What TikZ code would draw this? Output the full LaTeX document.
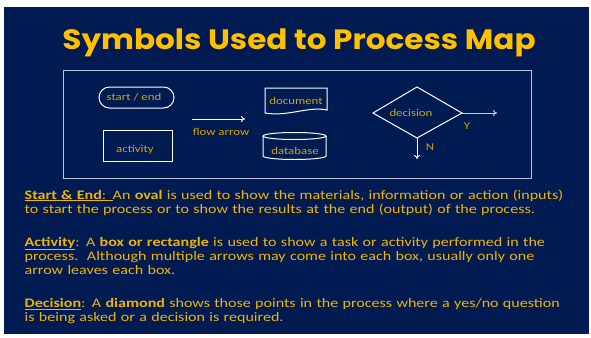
\documentclass[tikz,border=0pt]{standalone}
\usepackage{fontspec}
\setmainfont{Carlito}[FakeStretch=1.235]
\newfontfamily\titlefont{Poppins}[FakeStretch=1.11]
\usetikzlibrary{arrows.meta}
\definecolor{navy}{RGB}{0,27,82}
\definecolor{gold}{RGB}{255,192,0}
\definecolor{bodygold}{RGB}{240,180,0}
\definecolor{lblgold}{RGB}{214,166,0}
\definecolor{frame}{RGB}{184,196,220}
\definecolor{arrgray}{RGB}{200,205,216}
\begin{document}
\begin{tikzpicture}[x=1pt,y=-1pt,
  shp/.style={draw=white, line width=1pt},
  lbl/.style={text=lblgold, font=\fontsize{10.4}{12}\selectfont, inner sep=0pt},
  flow/.style={draw=white, line width=0.9pt, -{To[length=4pt,width=6pt]}},
  para/.style={text=bodygold, font=\fontsize{13}{14.4}\selectfont, align=left, text width=575pt, anchor=base west, inner sep=0pt}]
\useasboundingbox (0,0) rectangle (591,337);
\fill[white] (0,0) rectangle (591,337);
\fill[navy] (4,7) rectangle (589,334);
% title
\node[text=gold, font=\titlefont\bfseries\fontsize{28}{32}\selectfont, anchor=base, inner sep=0pt] (title) at (299,50) {Symbols Used to Process Map};
% frame
\draw[frame, line width=1pt] (63,70) rectangle (531,178);
% start / end
\node[shp, rounded corners=10.5pt, minimum width=75pt, minimum height=21pt, inner sep=0pt] (se) at (136.5,97.5) {};
\node[lbl] (selbl) at (134,97.5) {start / end};
% activity
\node[shp, minimum width=69pt, minimum height=31pt, inner sep=0pt] (act) at (137.5,145.5) {};
\node[lbl] (actlbl) at (135,150) {activity};
% flow arrow
\coordinate (fa1) at (192,119);
\coordinate (fa2) at (245,119);
\draw[flow] (fa1) -- (fa2);
\node[lbl] (falbl) at (221,132) {flow arrow};
% document
\draw[shp] (265,88) -- (327,88) -- (327,110) .. controls (308,106) and (288,117) .. (265,113) -- cycle;
\node[lbl] (doc) at (296,101) {document};
% database
\draw[shp] (294.5,136) ellipse [x radius=31.5pt, y radius=3.5pt];
\draw[shp] (263,136) -- (263,156) arc [start angle=180, end angle=360, x radius=31.5pt, y radius=3.5pt] -- (326,136);
\node[lbl] (db) at (295,150.5) {database};
% decision
\coordinate (dl) at (373,113);
\coordinate (dt) at (417,87);
\coordinate (dr) at (462,113);
\coordinate (db2) at (417,138);
\draw[shp] (dl) -- (dt) -- (dr) -- (db2) -- cycle;
\node[lbl] (dec) at (411,113) {decision};
\coordinate (ya) at (497,113);
\coordinate (na) at (417,159);
\draw[flow, draw=arrgray] (dr) -- (ya);
\draw[flow] (db2) -- (na);
\node[lbl] (y) at (467,126) {Y};
\node[lbl] (n) at (430,147) {N};
% body text
\node[para] (p1) at (24.5,199) {\underline{\textbf{Start \& End}: }An \textbf{oval} is used to show the materials, information or action (inputs)\\to start the process or to show the results at the end (output) of the process.};
\node[para] (p2) at (24.5,246) {\underline{\textbf{Activity}}: A \textbf{box or rectangle} is used to show a task or activity performed in the\\process.\ \ Although multiple arrows may come into each box, usually only one\\arrow leaves each box.};
\node[para] (p3) at (24.5,307.5) {\underline{\textbf{Decision}}: A \textbf{diamond} shows those points in the process where a yes/no question\\is being asked or a decision is required.};
\end{tikzpicture}
\end{document}
